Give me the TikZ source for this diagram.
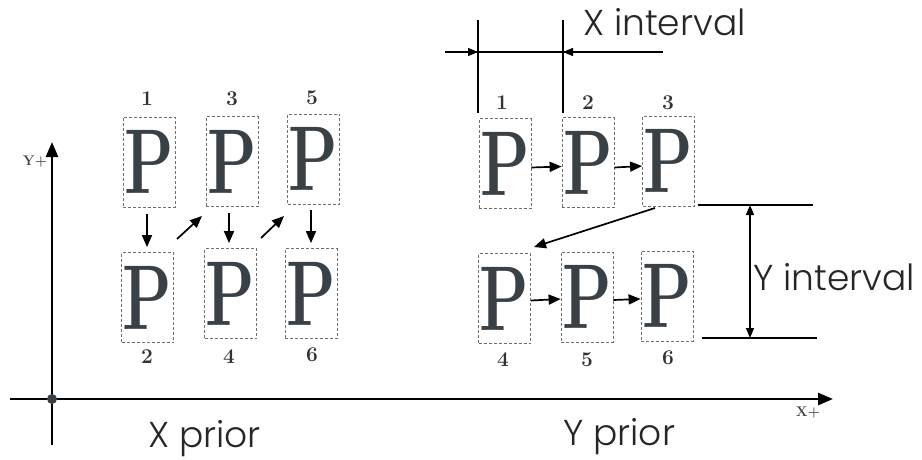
\documentclass[tikz,border=0pt]{standalone}
\usepackage{fontspec}
\newfontfamily\geo{Poppins Light}
\usetikzlibrary{arrows.meta,calc}
\definecolor{pgray}{HTML}{3A4146}
\definecolor{bgray}{HTML}{707070}
\tikzset{
  pbox/.style={draw=bgray, densely dashed, line width=0.8pt, minimum width=52pt, minimum height=90pt, inner sep=0pt,
     font=\bfseries\fontsize{92}{92}\selectfont, text=pgray},
  numlab/.style={font=\bfseries\fontsize{21}{21}\selectfont, text=black!80, inner sep=0pt},
  flow/.style={line width=1.7pt, -{Triangle[length=12pt,width=10pt]}},
  dimline/.style={line width=1.3pt},
  dimarrow/.style={line width=1.3pt, -{Triangle[length=10pt,width=8pt]}},
  axis/.style={line width=2.6pt},
  bigtext/.style={font=\geo\fontsize{36}{36}\selectfont, text=black!85, inner sep=0pt},
  axlab/.style={font=\bfseries\fontsize{14}{14}\selectfont, text=black!75, inner sep=0pt}
}
\newcommand{\bigP}{\scalebox{0.7}[1]{P}}
\begin{document}
\begin{tikzpicture}[x=1pt,y=-1pt]
\useasboundingbox (0,0) rectangle (922,459);
% axes
\coordinate (yb) at (52,445);
\coordinate (yt) at (52,142);
\coordinate (xl) at (10,399);
\coordinate (xr) at (833,399);
\draw[axis, -{Triangle[length=15pt,width=12pt]}] (yb) -- (yt);
\draw[axis, -{Triangle[length=15pt,width=12pt]}] (xl) -- (xr);
\node[circle, fill=pgray, minimum size=10pt, inner sep=0pt] (origin) at (52,399) {};
\node[axlab] (ylab) at (35,162) {Y+};
\node[axlab] (xlab) at (808,413) {X+};

% left panel: X prior
\node[pbox] (b1) at (149,162) {\bigP};
\node[pbox] (b3) at (232,161.5) {\bigP};
\node[pbox] (b5) at (313.5,159) {\bigP};
\node[pbox] (b2) at (147.5,297.5) {\bigP};
\node[pbox] (b4) at (230.5,293.5) {\bigP};
\node[pbox] (b6) at (311,293.5) {\bigP};
\node[numlab] (n1) at (147,99) {1};
\node[numlab] (n3) at (232,99) {3};
\node[numlab] (n5) at (312,98) {5};
\node[numlab] (n2) at (147,357) {2};
\node[numlab] (n4) at (229,357) {4};
\node[numlab] (n6) at (312,355) {6};
\draw[flow, shorten <=7pt, shorten >=5pt] (b1.south -| n2) -- (b2.north -| n2);
\draw[flow, shorten <=6pt, shorten >=5pt] (b3.south -| n4) -- (b4.north -| n4);
\draw[flow, shorten <=6pt, shorten >=5pt] (b5.south -| 311,0) -- (b6.north -| 311,0);
\coordinate (d1s) at (177,239);
\coordinate (d1e) at (202,216);
\coordinate (d2s) at (261,238);
\coordinate (d2e) at (284,216);
\draw[flow] (d1s) -- (d1e);
\draw[flow] (d2s) -- (d2e);
\node[bigtext, anchor=base west] (xprior) at (148,447) {X prior};

% right panel: Y prior
\node[pbox] (r1) at (505,163.5) {\bigP};
\node[pbox] (r2) at (588,162.5) {\bigP};
\node[pbox] (r3) at (668.5,161) {\bigP};
\node[pbox] (r4) at (504.5,298.5) {\bigP};
\node[pbox] (r5) at (587,297) {\bigP};
\node[pbox] (r6) at (667,296) {\bigP};
\node[numlab] (m1) at (502,103) {1};
\node[numlab] (m2) at (588,103) {2};
\node[numlab] (m3) at (668,103) {3};
\node[numlab] (m4) at (503,360) {4};
\node[numlab] (m5) at (587,360) {5};
\node[numlab] (m6) at (668,358) {6};
\draw[flow] ($(r1.east)+(0,4)$) -- ($(r2.west)+(0,4)$);
\draw[flow] ($(r2.east)+(0,5)$) -- ($(r3.west)+(0,5)$);
\draw[flow] ($(r4.east)+(0,2)$) -- ($(r5.west)+(0,2)$);
\draw[flow] ($(r5.east)+(0,3)$) -- ($(r6.west)+(0,3)$);
\coordinate (d3s) at (655,208);
\coordinate (d3e) at (534,247);
\draw[flow] (d3s) -- (d3e);
\node[bigtext, anchor=base west] (yprior) at (563,445) {Y prior};

% X interval dimension
\coordinate (xv1b) at (478,113);
\coordinate (xv1t) at (478,20);
\coordinate (xv2b) at (563,113);
\coordinate (xv2t) at (563,20);
\coordinate (xhl) at (445,52);
\coordinate (xhr) at (663,52);
\draw[dimline] (xv1b) -- (xv1t);
\draw[dimline] (xv2b) -- (xv2t);
\draw[dimline] (xhl) -- (xhr);
\draw[dimarrow] (xhl) -- (xhl -| xv1b);
\draw[dimarrow] (xhr) -- (xhr -| xv2b);
\node[bigtext, anchor=base west] (xint) at (583,35) {X interval};

% Y interval dimension
\coordinate (yh1l) at (698,205);
\coordinate (yh1r) at (813,205);
\coordinate (yh2l) at (702,338);
\coordinate (yh2r) at (817,338);
\draw[dimline, line width=1.8pt] (yh1l) -- (yh1r);
\draw[dimline, line width=1.8pt] (yh2l) -- (yh2r);
\coordinate (yv1) at (750,205);
\coordinate (yv2) at (750,338);
\draw[line width=1.3pt, {Triangle[length=10pt,width=8pt]}-{Triangle[length=10pt,width=8pt]}] (yv1) -- (yv2);
\node[bigtext, anchor=base west] (yint) at (753,290) {Y interval};
\end{tikzpicture}
\end{document}
